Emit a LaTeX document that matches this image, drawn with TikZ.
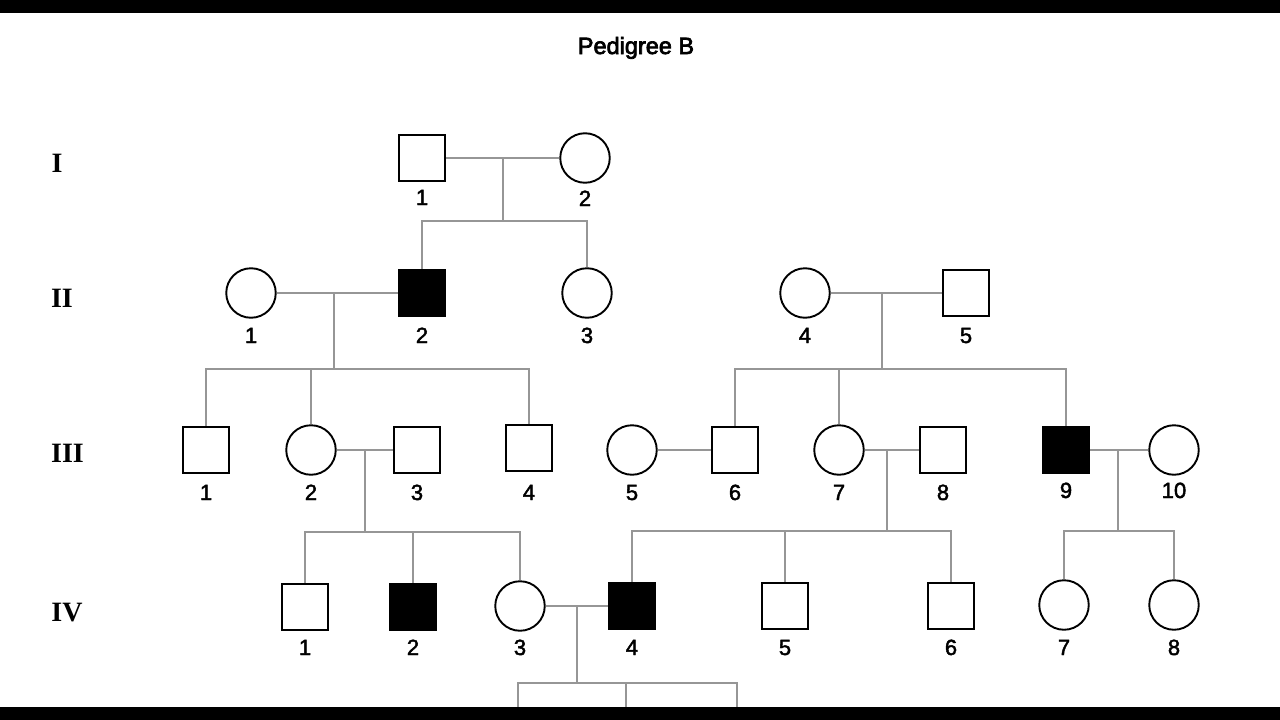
\documentclass[tikz,border=0pt]{standalone}
\usepackage{fontspec}
\setmainfont{Liberation Sans}
\newfontfamily\romfont{Liberation Serif}
\newfontfamily\numfont[FakeBold=2]{Liberation Sans}
\newfontfamily\titlefont[FakeBold=3]{Liberation Sans}
\definecolor{linegray}{RGB}{150,150,150}
\begin{document}
\begin{tikzpicture}[x=1pt,y=-1pt,
  male/.style={rectangle,draw=black,line width=1.9pt,fill=white,minimum size=46.5pt,inner sep=0pt},
  female/.style={circle,draw=black,line width=1.9pt,fill=white,minimum size=49.5pt,inner sep=0pt},
  aff/.style={fill=black},
  tie/.style={draw=linegray,line width=1.5pt},
  num/.style={font=\numfont\fontsize{22}{22}\selectfont,anchor=base,inner sep=0pt},
  gen/.style={font=\romfont\bfseries\fontsize{28}{28}\selectfont,inner sep=0pt},
  title/.style={font=\titlefont\fontsize{23.5}{24}\selectfont,anchor=base,inner sep=0pt}]
\fill[white] (0,0) rectangle (1280,720);
\useasboundingbox (0,0) rectangle (1280,720);

% title
\node[title] (title) at (636,54) {Pedigree B};

% generation numerals
\node[gen] (gI) at (57,163) {I};
\node[gen] (gII) at (62,298) {II};
\node[gen] (gIII) at (67.5,453) {III};
\node[gen] (gIV) at (67,613) {IV};

% generation I
\node[male] (I1) at (422,158) {};
\node[female] (I2) at (585,158) {};
% generation II
\node[female] (II1) at (251,293) {};
\node[male,aff] (II2) at (422,293) {};
\node[female] (II3) at (587,293) {};
\node[female] (II4) at (805,293) {};
\node[male] (II5) at (966,293) {};
% generation III
\node[male] (III1) at (206,450) {};
\node[female] (III2) at (311,450) {};
\node[male] (III3) at (417,450) {};
\node[male] (III4) at (529,448) {};
\node[female] (III5) at (632,450) {};
\node[male] (III6) at (735,450) {};
\node[female] (III7) at (839,450) {};
\node[male] (III8) at (943,450) {};
\node[male,aff] (III9) at (1066,450) {};
\node[female] (III10) at (1174,450) {};
% generation IV
\node[male] (IV1) at (305,607) {};
\node[male,aff] (IV2) at (413,607) {};
\node[female] (IV3) at (520,606) {};
\node[male,aff] (IV4) at (632,606) {};
\node[male] (IV5) at (785,606) {};
\node[male] (IV6) at (951,606) {};
\node[female] (IV7) at (1064,605) {};
\node[female] (IV8) at (1174,605) {};

% numbers
\foreach \n/\t/\o in {I1/1/47,I2/2/48,
  II1/1/50,II2/2/50,II3/3/50,II4/4/50,II5/5/50,
  III1/1/50,III2/2/50,III3/3/50,III4/4/52,III5/5/50,III6/6/50,III7/7/50,III8/8/50,III9/9/48,III10/10/48,
  IV1/1/48,IV2/2/48,IV3/3/49,IV4/4/49,IV5/5/49,IV6/6/49,IV7/7/50,IV8/8/50}
  \node[num] (t\n) at ([yshift=-\o pt]\n.center) {\t};

% couples and sibships
\coordinate (m1) at (503,158);  \coordinate (s1) at (503,221);
\coordinate (m2) at (334,293);  \coordinate (s2) at (334,369);
\coordinate (m3) at (882,293);  \coordinate (s3) at (882,369);
\coordinate (m4) at (365,450);  \coordinate (s4) at (365,532);
\coordinate (m6) at (887,450);  \coordinate (s6) at (887,531);
\coordinate (m7) at (1118,450); \coordinate (s7) at (1118,531);
\coordinate (m8) at (577,606);  \coordinate (s8) at (577,683);
\coordinate (c1) at (518,720);  \coordinate (c2) at (626,720);  \coordinate (c3) at (737,720);

\draw[tie] (I1.east) -- (I2.west);
\draw[tie] (m1) -- (s1);
\draw[tie] (II2.north) |- (s1) -| (II3.north);

\draw[tie] (II1.east) -- (II2.west);
\draw[tie] (m2) -- (s2);
\draw[tie] (III1.north) |- (s2) -| (III4.north);
\draw[tie] (III2.north) -- (III2.north |- s2);

\draw[tie] (II4.east) -- (II5.west);
\draw[tie] (m3) -- (s3);
\draw[tie] (III6.north) |- (s3) -| (III9.north);
\draw[tie] (III7.north) -- (III7.north |- s3);

\draw[tie] (III2.east) -- (III3.west);
\draw[tie] (m4) -- (s4);
\draw[tie] (IV1.north) |- (s4) -| (IV3.north);
\draw[tie] (IV2.north) -- (IV2.north |- s4);

\draw[tie] (III5.east) -- (III6.west);

\draw[tie] (III7.east) -- (III8.west);
\draw[tie] (m6) -- (s6);
\draw[tie] (IV4.north) |- (s6) -| (IV6.north);
\draw[tie] (IV5.north) -- (IV5.north |- s6);

\draw[tie] (III9.east) -- (III10.west);
\draw[tie] (m7) -- (s7);
\draw[tie] (IV7.north) |- (s7) -| (IV8.north);

\draw[tie] (IV3.east) -- (IV4.west);
\draw[tie] (m8) -- (s8);
\draw[tie] (c1) |- (s8) -| (c3);
\draw[tie] (c2) -- (c2 |- s8);

% black bars
\fill[black] (0,0) rectangle (1280,12.5);
\fill[black] (0,707) rectangle (1280,720);
\end{tikzpicture}
\end{document}
